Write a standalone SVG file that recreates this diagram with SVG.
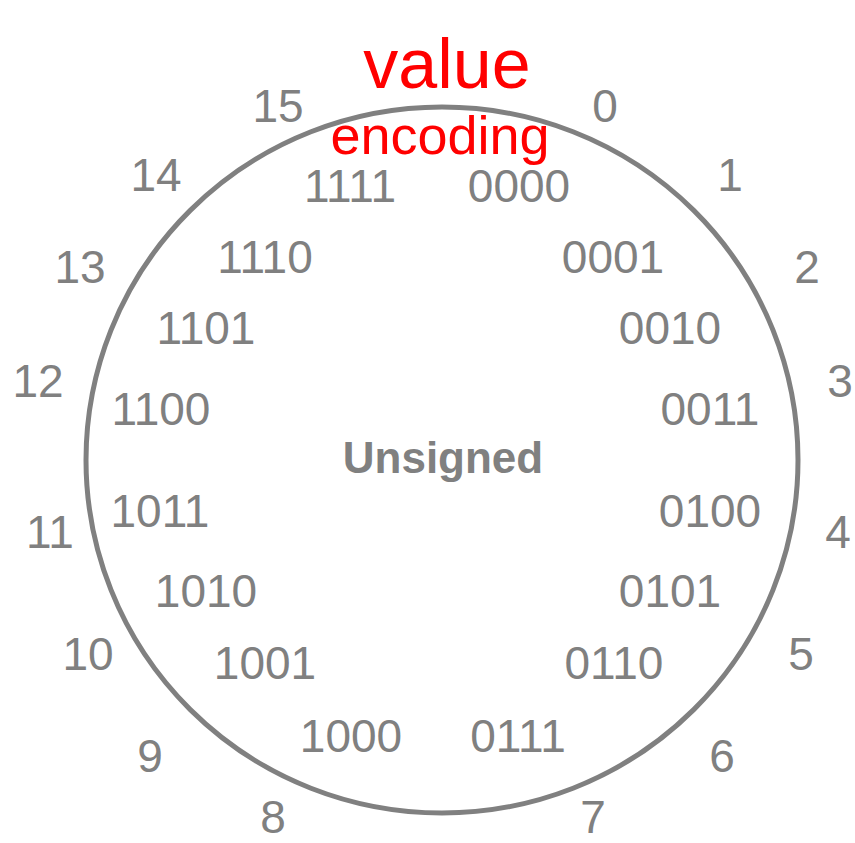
<svg xmlns="http://www.w3.org/2000/svg" width="855" height="843" viewBox="0 0 855 843">
<style>
.lbl{font-family:"Liberation Sans",Arial,sans-serif;font-size:46px;fill:#808080;text-anchor:middle}
.title{font-family:"Liberation Sans",Arial,sans-serif;font-size:44px;font-weight:bold;fill:#808080;text-anchor:middle}
.hand{font-family:"Liberation Sans",Arial,sans-serif;fill:#ff0000;text-anchor:middle}
</style>
<rect width="855" height="843" fill="#ffffff"/>
<g id="ring">
<ellipse cx="442" cy="460" rx="356" ry="353" fill="none" stroke="#808080" stroke-width="5"/>
</g>
<g id="center-label"><text class="title" x="443" y="473">Unsigned</text></g>
<g id="values">
<text class="lbl" x="605" y="122">0</text>
<text class="lbl" x="730" y="191">1</text>
<text class="lbl" x="807" y="283">2</text>
<text class="lbl" x="840" y="397">3</text>
<text class="lbl" x="838" y="548">4</text>
<text class="lbl" x="801" y="670">5</text>
<text class="lbl" x="722" y="772">6</text>
<text class="lbl" x="593" y="833">7</text>
<text class="lbl" x="273" y="833">8</text>
<text class="lbl" x="150" y="772">9</text>
<text class="lbl" x="88" y="670">10</text>
<text class="lbl" x="50" y="548">11</text>
<text class="lbl" x="38" y="397">12</text>
<text class="lbl" x="80" y="283">13</text>
<text class="lbl" x="156" y="191">14</text>
<text class="lbl" x="278" y="122">15</text>
</g>
<g id="encodings">
<text class="lbl" x="519" y="202">0000</text>
<text class="lbl" x="613" y="273">0001</text>
<text class="lbl" x="670" y="344">0010</text>
<text class="lbl" x="710" y="425">0011</text>
<text class="lbl" x="710" y="527">0100</text>
<text class="lbl" x="670" y="607">0101</text>
<text class="lbl" x="614" y="679">0110</text>
<text class="lbl" x="518" y="752">0111</text>
<text class="lbl" x="351" y="752">1000</text>
<text class="lbl" x="265" y="679">1001</text>
<text class="lbl" x="206" y="607">1010</text>
<text class="lbl" x="160" y="527">1011</text>
<text class="lbl" x="161" y="425">1100</text>
<text class="lbl" x="206" y="344">1101</text>
<text class="lbl" x="265" y="273">1110</text>
<text class="lbl" x="350" y="202">1111</text>
</g>
<g id="annotation">
<text class="hand" x="447" y="88" font-size="70">value</text>
<text class="hand" x="440" y="154" font-size="54">encoding</text>
</g>
</svg>
